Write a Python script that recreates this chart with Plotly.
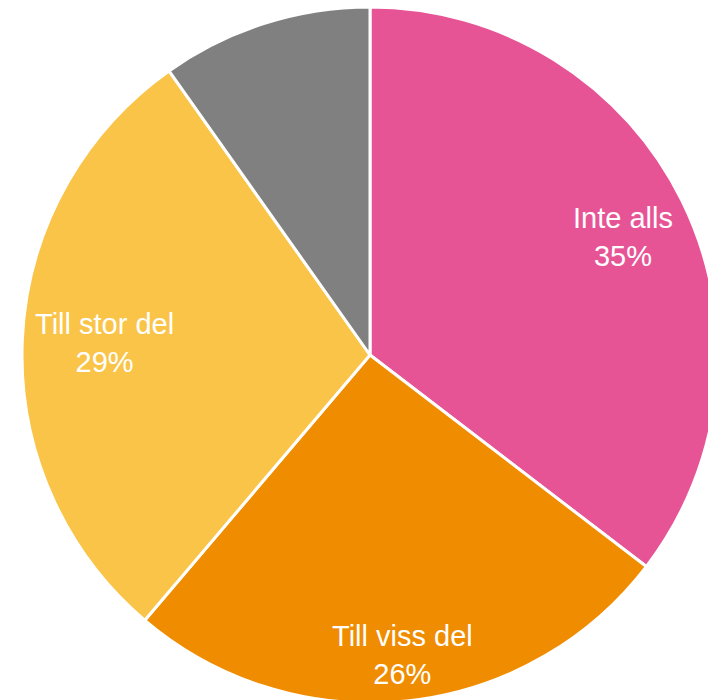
import math
import plotly.graph_objects as go

labels = ["Inte alls", "Till viss del", "Till stor del", "Vet ej"]
values = [35.4, 25.8, 29.0, 9.8]
colors = ["#E75496", "#F08C00", "#FAC448", "#808080"]
shown = [True, True, True, False]
label_radius = [0.81, 0.865, 0.765, 0.0]  # style: radial position of labels
label_shift = [-7, -1, 0, 0]              # style: vertical nudge (px)

W, H = 720, 704
cx, cy, r = 370, 355, 348

fig = go.Figure(go.Pie(
    labels=labels,
    values=values,
    textinfo="none",
    sort=False,
    direction="clockwise",
    rotation=0,
    marker=dict(colors=colors, line=dict(color="white", width=3)),
    domain=dict(x=[(cx - r) / W, (cx + r) / W], y=[1 - (cy + r) / H, 1 - (cy - r) / H]),
    hoverinfo="label+percent",
))

total = sum(values)
cum = 0.0
annotations = []
for lab, v, s, k, sh in zip(labels, values, shown, label_radius, label_shift):
    mid = (cum + v / 2) / total
    cum += v
    if not s:
        continue
    th = 2 * math.pi * mid
    px = cx + k * r * math.sin(th)
    py = cy - k * r * math.cos(th)
    annotations.append(dict(
        x=px / W, y=1 - py / H, xref="paper", yref="paper", yshift=sh,
        text=f"{lab}<br>{round(100 * v / total)}%",
        showarrow=False, xanchor="center", yanchor="middle",
        font=dict(family="Liberation Sans, Arial, sans-serif", size=29, color="white"),
    ))

fig.update_layout(
    width=W, height=H,
    margin=dict(l=0, r=0, t=0, b=0),
    showlegend=False,
    paper_bgcolor="white",
    plot_bgcolor="white",
    annotations=annotations,
)

fig.write_html("out.html", config={"displayModeBar": False},
               post_script="document.body.style.margin='0';document.body.style.overflow='hidden';document.documentElement.style.overflow='hidden';")
